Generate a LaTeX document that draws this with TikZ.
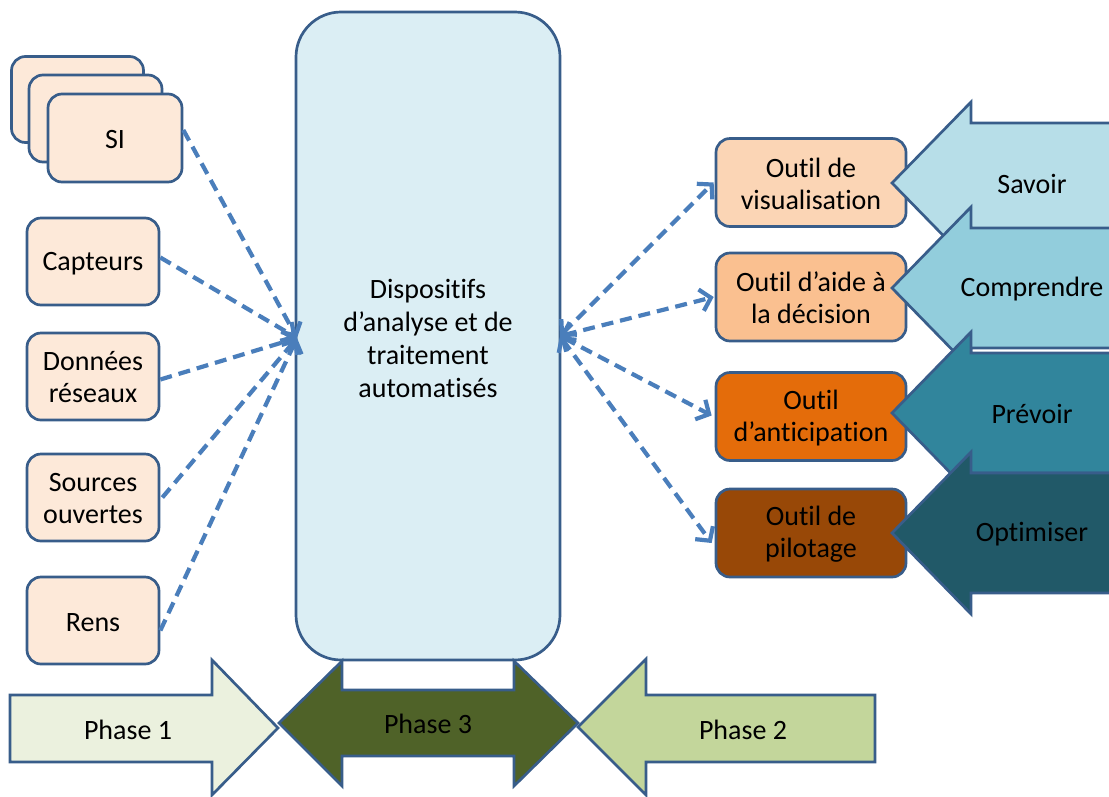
\documentclass[tikz,border=0pt]{standalone}
\usepackage{fontspec}
\setmainfont{Carlito}[Ligatures=NoCommon]
\usetikzlibrary{arrows.meta}

\definecolor{edge}{HTML}{385D8A}
\definecolor{linkblue}{HTML}{4A7EBB}
\definecolor{srcfill}{HTML}{FDE9D9}
\definecolor{corefill}{HTML}{DBEEF4}
\definecolor{toolA}{HTML}{FBD5B5}
\definecolor{toolB}{HTML}{FAC090}
\definecolor{toolC}{HTML}{E46C0A}
\definecolor{toolD}{HTML}{984807}
\definecolor{goalA}{HTML}{B7DEE8}
\definecolor{goalB}{HTML}{92CDDC}
\definecolor{goalC}{HTML}{31859C}
\definecolor{goalD}{HTML}{215968}
\definecolor{phaseA}{HTML}{EBF1DE}
\definecolor{phaseB}{HTML}{C3D69B}
\definecolor{phaseC}{HTML}{4F6228}

\begin{document}
\begin{tikzpicture}[x=1pt,y=-1pt,
  txt/.style={font=\fontsize{28}{32}\selectfont, align=center, inner sep=0pt},
  srcbox/.style={draw=edge, line width=2.7pt, fill=srcfill, rounded corners=14pt,
    minimum width=132pt, minimum height=87pt},
  toolbox/.style={draw=edge, line width=2.7pt, rounded corners=14pt,
    minimum width=190pt, minimum height=88pt},
  blockarrow/.style={draw=edge, line width=2.7pt, line join=miter},
  link/.style={draw=linkblue, line width=4.2pt, dash pattern=on 12pt off 7pt},
  barb/.tip={Straight Barb[length=10pt,width=22pt]},
]
\useasboundingbox (0,0) rectangle (1109,796);
\clip (0,0) rectangle (1109,796);

% sources (stacked SI sheets)
\node[srcbox, minimum width=132pt, minimum height=86pt] (siback) at (77.5,99.5) {};
\node[srcbox, minimum width=133pt, minimum height=87pt] (simid) at (95.5,118.5) {};
\node[srcbox, minimum width=134pt, minimum height=88pt] (si) at (115,138) {};
\node[txt] (silab) at (115,140) {SI};
\node[srcbox] (capteurs) at (93,261.5) {};
\node[txt] (capteurslab) at (93,264) {Capteurs};
\node[srcbox] (donnees) at (93,376.5) {};
\node[txt] (donneeslab) at (93,377) {Données\\réseaux};
\node[srcbox] (sources) at (93,497.5) {};
\node[txt] (sourceslab) at (93,499) {Sources\\ouvertes};
\node[srcbox] (rens) at (93,620.5) {};
\node[txt] (renslab) at (93,623) {Rens};

% central processing block
\node[draw=edge, line width=2.7pt, fill=corefill, rounded corners=45pt,
  minimum width=264pt, minimum height=648pt] (core) at (428,336) {};
\node[txt, font=\fontsize{28}{33}\selectfont] (corelab) at (428,338)
  {Dispositifs\\d’analyse et de\\traitement\\automatisés};

% tools
\node[toolbox, fill=toolA] (visu) at (811,182.5) {};
\node[txt] (visulab) at (811,184) {Outil de\\visualisation};
\node[toolbox, fill=toolB] (aide) at (811,297) {};
\node[txt] (aidelab) at (811,298) {Outil d’aide à\\la décision};
\node[toolbox, fill=toolC] (antic) at (811,416.5) {};
\node[txt] (anticlab) at (811,418) {Outil\\d’anticipation};
\node[toolbox, fill=toolD] (pilot) at (811,533) {};
\node[txt] (pilotlab) at (811,534) {Outil de\\pilotage};

% goal arrows pointing at the tools
\foreach \yc/\col/\lab/\nm in {183/goalA/Savoir/savoir, 288/goalB/Comprendre/comprendre,
                               413/goalC/Prévoir/prevoir, 533/goalD/Optimiser/optimiser}{
  \draw[blockarrow, fill=\col] (892,\yc) -- (971,\yc-81) -- (971,\yc-60) -- (1130,\yc-60)
    -- (1130,\yc+60) -- (971,\yc+60) -- (971,\yc+81) -- cycle;
  \node[txt] (\nm) at (1032,\yc+1) {\lab};
}

% dashed links into and out of the central block
\coordinate (hubL) at (297,338);
\coordinate (hubR) at (560,336);
\draw[link, -barb] ([yshift=8pt]si.east) -- (hubL);
\draw[link, -barb] ([yshift=4pt]capteurs.east) -- (hubL);
\draw[link, -barb] ([yshift=-3pt]donnees.east) -- (hubL);
\draw[link, -barb] ([xshift=2pt]sources.east) -- (hubL);
\draw[link, -barb] ([yshift=-10pt]rens.east) -- (hubL);
\draw[link, barb-barb] (hubR) -- ([xshift=-1pt]visu.west);
\draw[link, barb-barb] (hubR) -- ([xshift=-1pt]aide.west);
\draw[link, barb-barb] (hubR) -- ([xshift=-3pt,yshift=1pt]antic.west);
\draw[link, barb-barb] (hubR) -- ([xshift=-3pt,yshift=-10pt]pilot.west);

% phases
\draw[blockarrow, fill=phaseA] (10,695) -- (212,695) -- (212,660) -- (278,728) -- (212,795)
  -- (212,762) -- (10,762) -- cycle;
\node[txt] (phase1) at (128,730) {Phase 1};
\draw[blockarrow, fill=phaseB] (578,727) -- (646,659) -- (646,695) -- (875,695) -- (875,762)
  -- (646,762) -- (646,795) -- cycle;
\node[txt] (phase2) at (743,730) {Phase 2};
\draw[blockarrow, fill=phaseC] (279,723) -- (342,661) -- (342,690) -- (514,690) -- (514,661)
  -- (578,723) -- (514,786) -- (514,756) -- (342,756) -- (342,786) -- cycle;
\node[txt] (phase3) at (428,724) {Phase 3};
\end{tikzpicture}
\end{document}
